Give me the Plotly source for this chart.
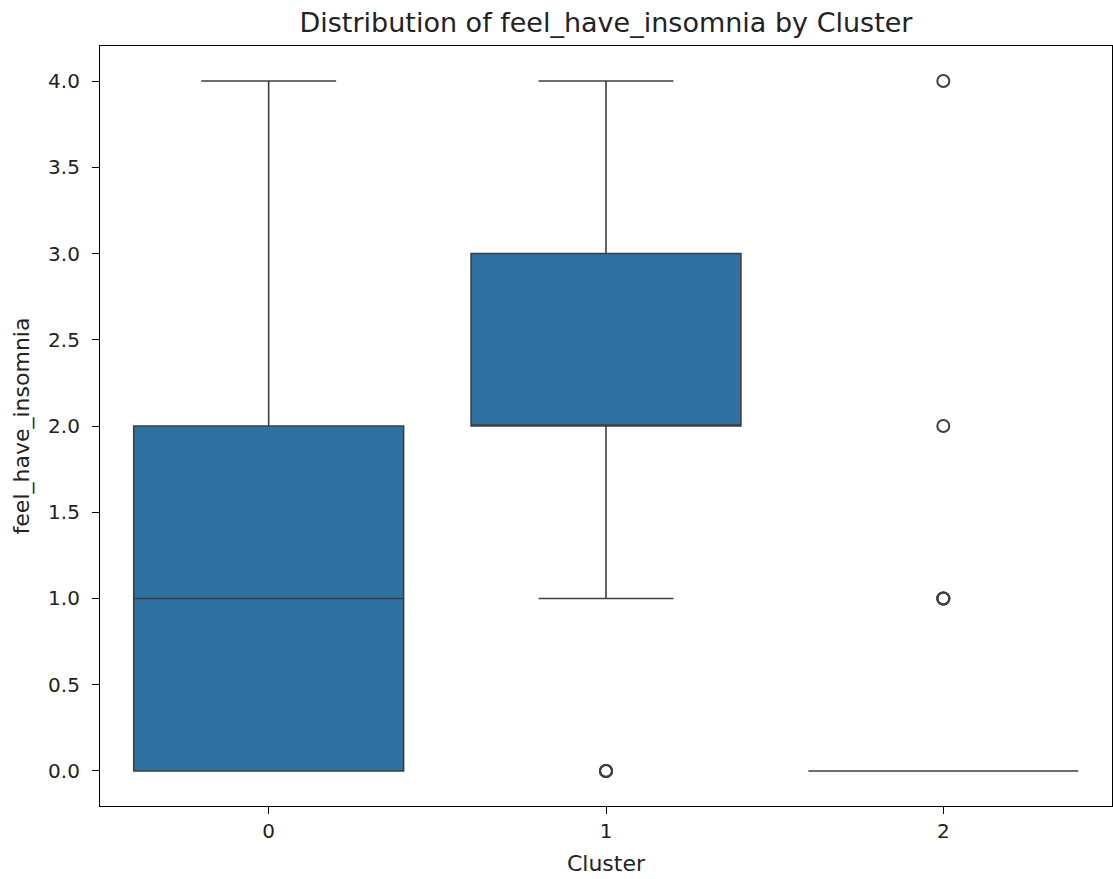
import plotly.graph_objects as go

# Data
clusters = [0, 1, 2]
q1 = [0.0, 2.0, 0.0]
median = [1.0, 2.0, 0.0]
q3 = [2.0, 3.0, 0.0]
lower_fence = [0.0, 1.0, 0.0]
upper_fence = [4.0, 4.0, 0.0]
outlier_cluster = [1, 1, 1, 2, 2, 2, 2, 2]
outlier_value = [0.0, 0.0, 0.0, 1.0, 1.0, 1.0, 2.0, 4.0]
y_ticks = [0.0, 0.5, 1.0, 1.5, 2.0, 2.5, 3.0, 3.5, 4.0]

BOX_FILL = "#2e72a2"
LINE = "#3f3f3f"
FONT = "DejaVu Sans"
TXT = "#222222"

fig = go.Figure()
fig.add_trace(go.Box(
    x=clusters, q1=q1, median=median, q3=q3,
    lowerfence=lower_fence, upperfence=upper_fence,
    width=0.8, whiskerwidth=0.5,
    fillcolor=BOX_FILL, line=dict(color=LINE, width=1.6),
    boxpoints=False, showlegend=False, hoverinfo="skip",
))
fig.add_trace(go.Scatter(
    x=outlier_cluster, y=outlier_value, mode="markers",
    marker=dict(symbol="circle-open", size=12, color=LINE, line=dict(width=2, color=LINE)),
    showlegend=False, hoverinfo="skip",
))

axis_common = dict(
    showline=True, linecolor="black", linewidth=1.2, mirror=True,
    ticks="outside", ticklen=7, tickwidth=1.2, tickcolor="black",
    showgrid=False, zeroline=False,
    tickfont=dict(family=FONT, size=20, color=TXT),
)

fig.update_layout(
    width=1113, height=879,
    margin=dict(l=100, r=1, t=46, b=73),
    paper_bgcolor="white", plot_bgcolor="white",
    font=dict(family=FONT, color=TXT),
    title=dict(text="Distribution of feel_have_insomnia by Cluster",
               x=0.5, xref="paper", xanchor="center",
               y=1 - 23 / 879, yanchor="middle",
               font=dict(family=FONT, size=27, color=TXT)),
    xaxis=dict(range=[-0.5, 2.5], tickmode="array", tickvals=clusters,
               ticktext=[str(c) for c in clusters],
               title=dict(text="Cluster", font=dict(family=FONT, size=22, color=TXT), standoff=13),
               **axis_common),
    yaxis=dict(range=[-0.203, 4.203], tickmode="array", tickvals=y_ticks,
               ticktext=[f"{v:.1f}" for v in y_ticks],
               ticklabelstandoff=8,
               title=dict(text="feel_have_insomnia", font=dict(family=FONT, size=22, color=TXT), standoff=12),
               **axis_common),
)

fig.write_html("out.html")
